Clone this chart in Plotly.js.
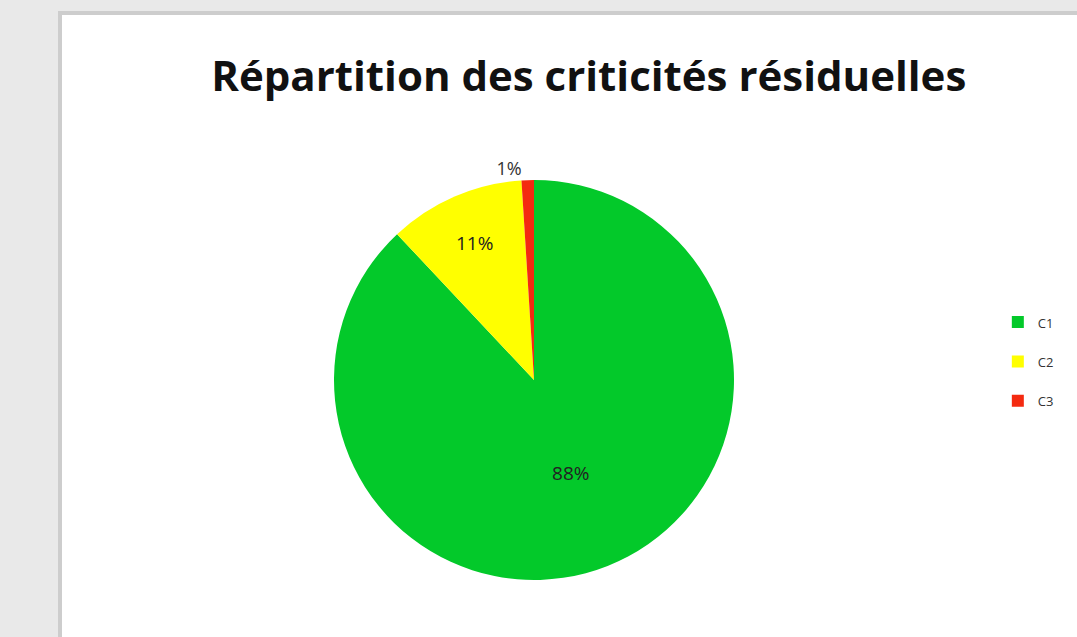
<!DOCTYPE html>
<html>
<head>
<meta charset="utf-8">
<script src="https://cdn.plot.ly/plotly-3.0.1.min.js"></script>
<style>
  html, body { margin: 0; padding: 0; background: #e9e9e9; overflow: hidden; width: 1077px; height: 637px; }
  #frame { position: absolute; left: 58px; top: 11px; border-left: 4px solid #cdcdcd; border-top: 4px solid #cdcdcd; background: #ffffff; width: 1015px; height: 622px; }
  #chart { width: 1015px; height: 622px; }
</style>
</head>
<body>
<div id="frame"><div id="chart"></div></div>
<script>
// Data
var categories = ['C1', 'C2', 'C3'];
var shares = [88, 11, 1];
var sliceColors = ['#03c92a', '#ffff00', '#f42a10'];
var labelPositions = ['inside', 'inside', 'outside'];
var chartTitle = 'Répartition des criticités résiduelles';

// legend entries: real text, extra blank line to give Excel-like spacing
var legendLabels = categories.map(function (c) {
  return '<span style="font-size:13px">' + c + '</span><br> ';
});

var trace = {
  type: 'pie',
  labels: legendLabels,
  values: shares,
  sort: false,
  direction: 'clockwise',
  rotation: 0,
  marker: { colors: sliceColors, line: { width: 0 } },
  textinfo: 'percent',
  textposition: labelPositions,
  insidetextorientation: 'horizontal',
  textfont: { family: 'Open Sans, sans-serif', size: 19, color: '#222222' },
  outsidetextfont: { family: 'Open Sans, sans-serif', size: 18, color: '#333333' },
  domain: { x: [0.26798, 0.66207], y: [0.09164, 0.73473] },
  hoverinfo: 'label+percent'
};

var layout = {
  width: 1015,
  height: 622,
  margin: { l: 0, r: 0, t: 0, b: 0 },
  paper_bgcolor: '#ffffff',
  title: {
    text: '<b>' + chartTitle + '</b>',
    font: { family: 'Open Sans, sans-serif', size: 42, color: '#111111' },
    x: 0.519, xanchor: 'center',
    y: 0.902, yanchor: 'middle', yref: 'container'
  },
  showlegend: true,
  legend: {
    x: 0.922, xanchor: 'left',
    y: 0.4277, yanchor: 'middle',
    font: { family: 'Open Sans, sans-serif', size: 14, color: '#333333' },
    valign: 'top',
    bgcolor: 'rgba(0,0,0,0)'
  }
};

Plotly.newPlot('chart', [trace], layout, { displayModeBar: false, staticPlot: true });
</script>
</body>
</html>
